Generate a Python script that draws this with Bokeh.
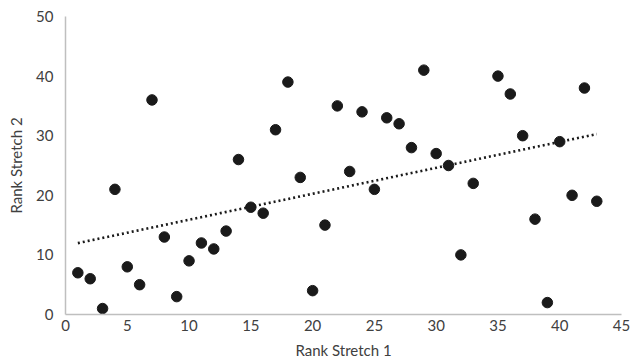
import numpy as np
from bokeh.plotting import figure
from bokeh.models import ColumnDataSource, Range1d, FixedTicker
from bokeh.embed import file_html
from bokeh.resources import INLINE

rank1 = [1, 2, 3, 4, 5, 6, 7, 8, 9, 10, 11, 12, 13, 14, 15, 16, 17, 18, 19, 20, 21,
         22, 23, 24, 25, 26, 27, 28, 29, 30, 31, 32, 33, 35, 36, 37, 38, 39, 40, 41, 42, 43]
rank2 = [7, 6, 1, 21, 8, 5, 36, 13, 3, 9, 12, 11, 14, 26, 18, 17, 31, 39, 23, 4, 15,
         35, 24, 34, 21, 33, 32, 28, 41, 27, 25, 10, 22, 40, 37, 30, 16, 2, 29, 20, 38, 19]
x_ticks = [0, 5, 10, 15, 20, 25, 30, 35, 40, 45]
y_ticks = [0, 10, 20, 30, 40, 50]

FONT = "Lato"
GREY = "#404040"

p = figure(width=632, height=361, output_backend="svg", toolbar_location=None,
           x_range=Range1d(0, 45), y_range=Range1d(0, 50),
           min_border_left=65, min_border_right=11, min_border_top=16, min_border_bottom=47)
p.outline_line_color = None
p.xgrid.grid_line_color = None
p.ygrid.grid_line_color = None

src = ColumnDataSource(dict(x=rank1, y=rank2))

# linear trendline (least squares) from the data
m, b = np.polyfit(rank1, rank2, 1)
tx = [min(rank1), max(rank1)]
ty = [m * v + b for v in tx]
p.line(tx, ty, line_color="#1a1a1a", line_width=2.6, line_dash="2 3")

p.scatter("x", "y", source=src, size=10.5, fill_color="#1a1a1a", line_color="#1a1a1a")

for ax in (p.xaxis[0], p.yaxis[0]):
    ax.axis_line_color = "#bfbfbf"
    ax.axis_line_width = 1.5
    ax.major_tick_line_color = None
    ax.minor_tick_line_color = None
    ax.major_tick_out = 0
    ax.major_tick_in = 0
    ax.minor_tick_out = 0
    ax.major_label_text_font = FONT
    ax.major_label_text_font_size = "15px"
    ax.major_label_text_color = GREY
    ax.axis_label_text_font = FONT
    ax.axis_label_text_font_size = "15px"
    ax.axis_label_text_font_style = "normal"
    ax.axis_label_text_color = GREY

p.xaxis.ticker = FixedTicker(ticks=x_ticks)
p.yaxis.ticker = FixedTicker(ticks=y_ticks)
p.xaxis.axis_label = "Rank Stretch 1"
p.yaxis.axis_label = "Rank Stretch 2"
p.xaxis.major_label_standoff = 5
p.yaxis.major_label_standoff = 12
p.xaxis.axis_label_standoff = 7
p.yaxis.axis_label_standoff = 8

open("out.html", "w").write(file_html(p, INLINE))
